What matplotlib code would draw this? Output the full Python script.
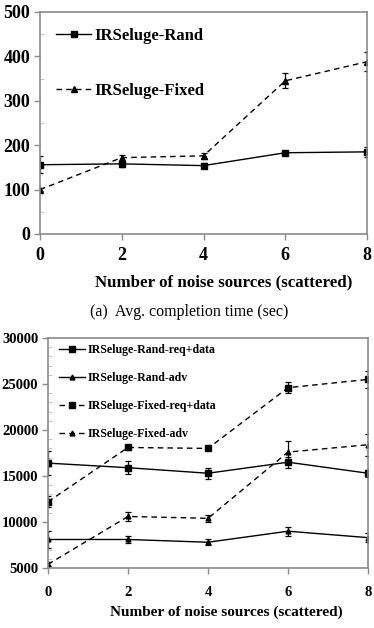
import matplotlib
matplotlib.use("Agg")
import matplotlib.pyplot as plt
from matplotlib.ticker import MultipleLocator
from matplotlib.lines import Line2D

plt.rcParams['font.family'] = ['Liberation Serif', 'DejaVu Serif']

x = [0, 2, 4, 6, 8]

# (a) Avg. completion time (sec)
rand_time = [156, 158, 154, 183, 185]
rand_time_err = [19, 6, 6, 4, 11]
fixed_time = [100, 172, 176, 345, 388]
fixed_time_err = [3, 7, 6, 17, 21]

# (b) message counts
rand_req = [16400, 15900, 15300, 16500, 15300]
rand_req_err = [1300, 700, 600, 600, 400]
rand_adv = [8100, 8100, 7800, 9000, 8300]
rand_adv_err = [900, 400, 300, 500, 500]
fixed_req = [12200, 18100, 18000, 24600, 25500]
fixed_req_err = [600, 300, 100, 600, 900]
fixed_adv = [5400, 10600, 10400, 17600, 18400]
fixed_adv_err = [200, 500, 400, 1200, 1200]

top_labels = ["IRSeluge-Rand", "IRSeluge-Fixed"]
bot_labels = ["IRSeluge-Rand-req+data", "IRSeluge-Rand-adv",
              "IRSeluge-Fixed-req+data", "IRSeluge-Fixed-adv"]
xlabel = "Number of noise sources (scattered)"
caption = "(a)  Avg. completion time (sec)"

W, H = 374, 628
fig = plt.figure(figsize=(W / 100, H / 100), dpi=100)

DASH = (0, (4, 3))

def style(ax):
    for s in ax.spines.values():
        s.set_color('#8a8a8a')
        s.set_linewidth(1.2)
    ax.tick_params(axis='both', which='major', color='#8a8a8a', length=4, width=1, direction='out')
    ax.tick_params(axis='y', which='minor', color='#c8c8c8', length=3, width=0.8, direction='in')

ekw = dict(color='black', lw=1.0, capsize=2.5, elinewidth=0.9, capthick=0.9)

# ---- top chart
ax1 = fig.add_axes([40 / W, 1 - 234 / H, 327 / W, 222 / H])
ax1.errorbar(x, rand_time, yerr=rand_time_err, marker='s', ms=5, ls='-', **ekw)
ax1.errorbar(x, fixed_time, yerr=fixed_time_err, marker='^', ms=4, ls=DASH, **ekw)
ax1.set_xlim(0, 8)
ax1.set_ylim(0, 500)
ax1.set_xticks(x)
ax1.yaxis.set_major_locator(MultipleLocator(100))
ax1.yaxis.set_minor_locator(MultipleLocator(50))
style(ax1)
for lab in ax1.get_xticklabels() + ax1.get_yticklabels():
    lab.set_fontweight('bold')
    lab.set_fontsize(13)
ax1.tick_params(axis='y', pad=3)
ax1.tick_params(axis='x', pad=5)
fig.text(224 / W, 1 - 282 / H, xlabel, ha='center', va='center', fontsize=12.2, fontweight='bold')
h1 = [Line2D([], [], color='black', lw=1.0, marker='s', ms=5, ls='-'),
      Line2D([], [], color='black', lw=1.0, marker='^', ms=4, ls=DASH)]
ax1.legend(h1, top_labels, loc='upper left', bbox_to_anchor=(0.03, 0.96), frameon=False,
           prop={'weight': 'bold', 'size': 12}, handlelength=2.1, handletextpad=0.15,
           labelspacing=2.35, borderaxespad=0)
fig.text(189 / W, 1 - 312 / H, caption, ha='center', va='center', fontsize=11.5)

# ---- bottom chart
ax2 = fig.add_axes([48 / W, 1 - 568 / H, 320 / W, 230 / H])
ax2.errorbar(x, rand_req, yerr=rand_req_err, marker='s', ms=4.5, ls='-', **ekw)
ax2.errorbar(x, rand_adv, yerr=rand_adv_err, marker='^', ms=3.5, ls='-', **ekw)
ax2.errorbar(x, fixed_req, yerr=fixed_req_err, marker='s', ms=4.5, ls=DASH, **ekw)
ax2.errorbar(x, fixed_adv, yerr=fixed_adv_err, marker='^', ms=3.5, ls=DASH, **ekw)
ax2.set_xlim(0, 8)
ax2.set_ylim(5000, 30000)
ax2.set_xticks(x)
ax2.yaxis.set_major_locator(MultipleLocator(5000))
ax2.yaxis.set_minor_locator(MultipleLocator(1000))
style(ax2)
for lab in ax2.get_xticklabels() + ax2.get_yticklabels():
    lab.set_fontweight('bold')
    lab.set_fontsize(10.5)
ax2.tick_params(axis='y', pad=3)
ax2.tick_params(axis='x', pad=9)
fig.text(226 / W, 1 - 612 / H, xlabel, ha='center', va='center', fontsize=11, fontweight='bold')
h2 = [Line2D([], [], color='black', lw=1.0, marker='s', ms=4.5, ls='-'),
      Line2D([], [], color='black', lw=1.0, marker='^', ms=3.5, ls='-'),
      Line2D([], [], color='black', lw=1.0, marker='s', ms=4.5, ls=DASH),
      Line2D([], [], color='black', lw=1.0, marker='^', ms=3.5, ls=DASH)]
ax2.legend(h2, bot_labels, loc='upper left', bbox_to_anchor=(0.02, 0.995), frameon=False,
           prop={'weight': 'bold', 'size': 8.6}, handlelength=2.2, handletextpad=0.2,
           labelspacing=1.35, borderaxespad=0)

fig.savefig("out.png", dpi=100)
